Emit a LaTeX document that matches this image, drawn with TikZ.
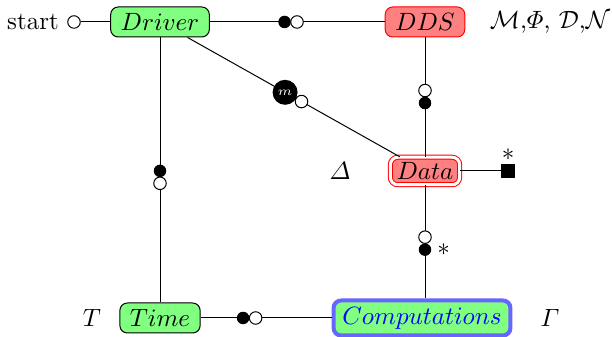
\documentclass[tikz,border=0pt]{standalone}
\usepackage{amsmath}
\usepackage{amsfonts}
\usetikzlibrary{calc}

\begin{document}
\begin{tikzpicture}[x=0.4pt,y=0.4pt,
	box/.style={draw,rounded corners=3pt,fill=green!50,minimum height=12pt,inner xsep=4pt,inner ysep=0pt},
	redbox/.style={box,draw=red,fill=red!50},
	plug/.style={circle,fill=black,inner sep=0pt,minimum size=5pt},
	socket/.style={circle,draw,fill=white,inner sep=0pt,minimum size=5pt}]
			\useasboundingbox (0,0) rectangle (612,337);
			\node (start) at (33,315) {start};
			\node[socket] (s) at (74,315) {};
			\node[box] (driver) at (160,315) {$Driver$};
			\node[redbox] (dds) at (425,315) {$DDS$};
			\node[redbox,double,double distance=1.2pt,inner xsep=2.5pt,minimum height=11pt] (data) at (425,166) {$Data$};
			\node[box] (time) at (160,19) {$Time$};
			\node[box,draw=blue!60,line width=1.6pt,text=blue,minimum height=14pt,inner xsep=3.5pt] (comp) at (422,19) {$Computations$};
			\node[fill=black,inner sep=0pt,minimum size=5.6pt,label={[inner sep=1pt]above:$*$}] (sq) at (508,166) {};

			\node (mlabel) at (550,315) {$\mathcal{M}$,$\varPhi$, $\mathcal{D}$,$\mathcal{N}$};
			\node (delta) at (340,166) {$\varDelta$};
			\node (tlabel) at (92,19) {$T$};
			\node (gamma) at (550,19) {$\varGamma$};

			\draw (s) -- (driver);
			\draw (driver) -- (dds);
			\draw (driver) -- (data);
			\draw (driver) -- (time);
			\draw (dds) -- (data);
			\draw (data) -- (data |- comp.north);
			\draw (data) -- (sq);
			\draw (time) -- (comp);

			\node[plug] (p1) at ($(driver)!0.47!(dds)$) {};
			\node[socket] (s1) at ($(driver)!0.517!(dds)$) {};
			\node[socket] (s2) at ($(dds)!0.46!(data)$) {};
			\node[plug] (p2) at ($(dds)!0.544!(data)$) {};
			\node[plug] (p3) at ($(driver)!0.503!(time)$) {};
			\node[socket] (s3) at ($(driver)!0.545!(time)$) {};
			\node[plug] (p4) at ($(time)!0.317!(comp)$) {};
			\node[socket] (s4) at ($(time)!0.365!(comp)$) {};
			\node[socket] (s5) at ($(data)!0.45!(data |- comp)$) {};
			\node[plug,label={[inner sep=2pt]right:$*$}] (p5) at ($(data)!0.535!(data |- comp)$) {};
			\node[circle,fill=black,inner sep=0pt,minimum size=10pt,text=white,font=\tiny] (m) at ($(driver)!0.472!(data)$) {$m$};
			\node[socket] (s6) at ($(driver)!0.534!(data)$) {};
\end{tikzpicture}
\end{document}
